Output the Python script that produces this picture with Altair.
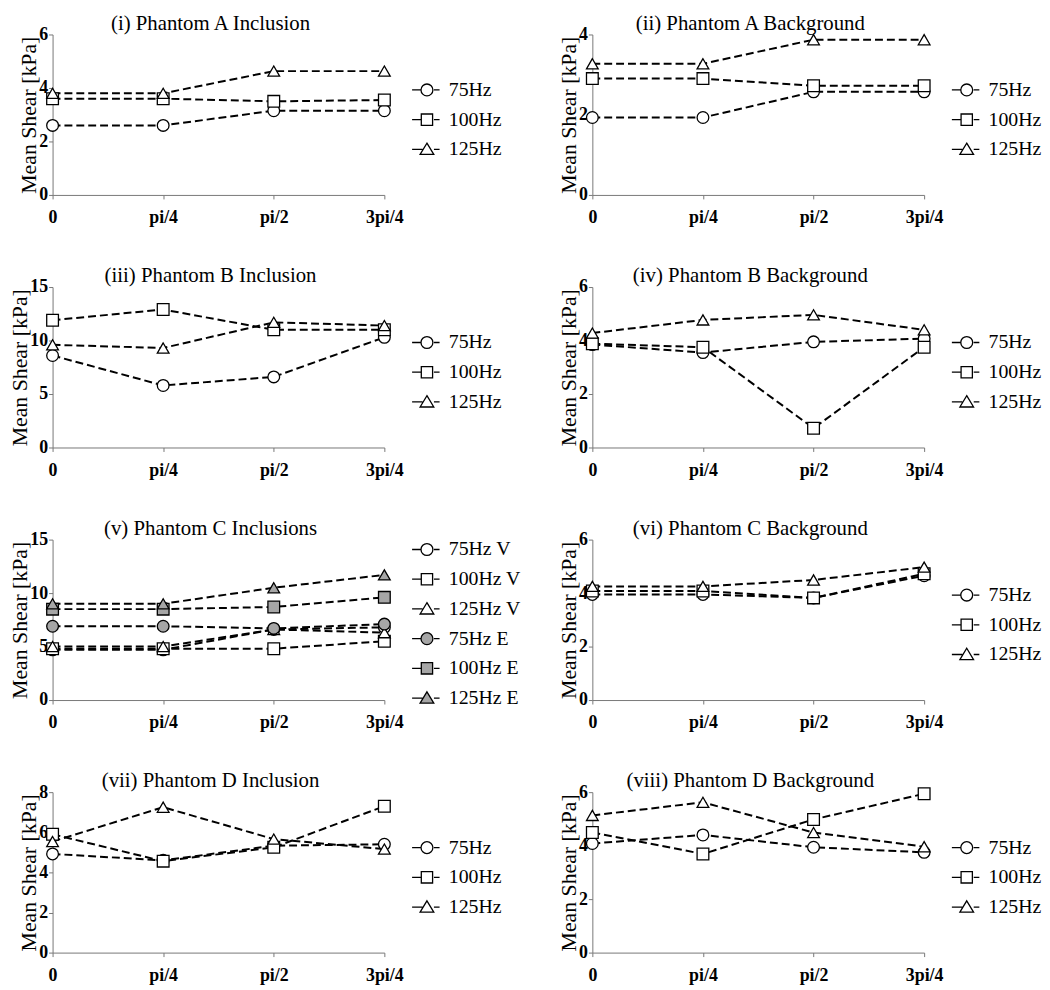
import altair as alt
import pandas as pd

angles = ["0", "pi/4", "pi/2", "3pi/4"]
freq3 = ["75Hz", "100Hz", "125Hz"]
freq6 = ["75Hz V", "100Hz V", "125Hz V", "75Hz E", "100Hz E", "125Hz E"]

titles = [
    "(i)  Phantom A Inclusion", "(ii)  Phantom A Background",
    "(iii)  Phantom B Inclusion", "(iv)  Phantom B Background",
    "(v)  Phantom C Inclusions", "(vi)  Phantom C Background",
    "(vii)  Phantom D Inclusion", "(viii)  Phantom D Background",
]

a_inc_75 = [2.6, 2.6, 3.15, 3.15]
a_inc_100 = [3.6, 3.6, 3.5, 3.55]
a_inc_125 = [3.8, 3.8, 4.63, 4.63]

a_bg_75 = [1.93, 1.93, 2.57, 2.57]
a_bg_100 = [2.9, 2.9, 2.72, 2.72]
a_bg_125 = [3.27, 3.27, 3.87, 3.87]

b_inc_75 = [8.6, 5.8, 6.6, 10.3]
b_inc_100 = [11.9, 12.9, 11.0, 11.0]
b_inc_125 = [9.6, 9.3, 11.7, 11.4]

b_bg_75 = [3.85, 3.55, 3.95, 4.07]
b_bg_100 = [3.88, 3.75, 0.72, 3.75]
b_bg_125 = [4.28, 4.77, 4.96, 4.4]

c_inc_75v = [4.7, 4.7, 6.6, 6.8]
c_inc_100v = [4.8, 4.8, 4.8, 5.5]
c_inc_125v = [5.0, 5.0, 6.6, 6.3]
c_inc_75e = [6.9, 6.9, 6.7, 7.1]
c_inc_100e = [8.5, 8.5, 8.7, 9.6]
c_inc_125e = [9.0, 9.0, 10.5, 11.7]

c_bg_75 = [3.95, 3.95, 3.82, 4.65]
c_bg_100 = [4.08, 4.08, 3.82, 4.72]
c_bg_125 = [4.25, 4.25, 4.49, 4.97]

d_inc_75 = [4.92, 4.6, 5.33, 5.4]
d_inc_100 = [5.9, 4.56, 5.25, 7.3]
d_inc_125 = [5.54, 7.25, 5.66, 5.16]

d_bg_75 = [4.08, 4.4, 3.94, 3.75]
d_bg_100 = [4.49, 3.69, 4.98, 5.94]
d_bg_125 = [5.13, 5.62, 4.49, 3.96]

y_max = [6, 4, 15, 6, 15, 6, 8, 6]
y_ticks = [[0, 2, 4, 6], [0, 2, 4], [0, 5, 10, 15], [0, 2, 4, 6],
           [0, 5, 10, 15], [0, 2, 4, 6], [0, 2, 4, 6, 8], [0, 2, 4, 6]]

panel_series = [
    (freq3, [a_inc_75, a_inc_100, a_inc_125]),
    (freq3, [a_bg_75, a_bg_100, a_bg_125]),
    (freq3, [b_inc_75, b_inc_100, b_inc_125]),
    (freq3, [b_bg_75, b_bg_100, b_bg_125]),
    (freq6, [c_inc_75v, c_inc_100v, c_inc_125v, c_inc_75e, c_inc_100e, c_inc_125e]),
    (freq3, [c_bg_75, c_bg_100, c_bg_125]),
    (freq3, [d_inc_75, d_inc_100, d_inc_125]),
    (freq3, [d_bg_75, d_bg_100, d_bg_125]),
]

FONT = "Liberation Serif"
GRAY = "#a6a6a6"
plot_shapes3 = ["circle", "square", "triangle-up"]
leg_circle = "M-1,0H-0.4M0.47,0H0.85M-0.4,0A0.4,0.4,0,1,1,0.4,0A0.4,0.4,0,1,1,-0.4,0Z"
leg_square = "M-1,0H-0.38M0.47,0H0.85M-0.38,-0.38H0.38V0.38H-0.38Z"
leg_tri = "M-1,0H-0.3M0.47,0H0.85M0,-0.42L0.46,0.34H-0.46Z"
leg_shapes3 = [leg_circle, leg_square, leg_tri]

W, H = 335, 162


def panel(i):
    names, values = panel_series[i]
    rows = []
    for n, vals in zip(names, values):
        for k, (a, v) in enumerate(zip(angles, vals)):
            rows.append({"angle": a, "idx": k, "value": v, "series": n})
    df = pd.DataFrame(rows)
    six = len(names) == 6
    shapes = plot_shapes3 * 2 if six else plot_shapes3
    lshapes = leg_shapes3 * 2 if six else leg_shapes3
    fills = ["white"] * 3 + [GRAY] * 3 if six else ["white"] * 3
    leg = alt.Legend(
        title=None, orient="none", legendX=362, legendY=-6 if six else 40,
        symbolSize=900, symbolStrokeColor="black", symbolStrokeWidth=1.3,
        labelFont=FONT, labelFontSize=20, labelColor="black", labelOffset=6,
        rowPadding=4, padding=0, symbolOpacity=1,
    )
    base = alt.Chart(df).encode(
        x=alt.X("angle:N", sort=angles, scale=alt.Scale(type="point", padding=0),
                axis=alt.Axis(title=None, labelAngle=0, labelFont=FONT, labelFontSize=18,
                              labelFontWeight="bold", labelColor="black", tickSize=4,
                              labelPadding=10, domainColor="#777", tickColor="#777",
                              grid=False)),
        y=alt.Y("value:Q", scale=alt.Scale(domain=[0, y_max[i]], nice=False, zero=True),
                axis=alt.Axis(title="Mean Shear [kPa]", values=y_ticks[i], titleFont=FONT,
                              titleFontSize=22, titleFontWeight="normal", titleColor="black",
                              titlePadding=-2, labelFont=FONT, labelFontSize=18,
                              labelFontWeight="bold", labelColor="black", tickSize=4,
                              labelPadding=1, domainColor="#777", tickColor="#777",
                              grid=False)),
    )
    lines = base.mark_line(color="black", strokeWidth=2, strokeDash=[8, 4]).encode(
        detail="series:N", order="idx:Q")
    points = base.mark_point(filled=True, stroke="black", strokeWidth=1.3, size=140,
                             opacity=1).encode(
        shape=alt.Shape("series:N", scale=alt.Scale(domain=names, range=shapes), legend=None),
        fill=alt.Fill("series:N", scale=alt.Scale(domain=names, range=fills), legend=None),
    )
    legend_layer = base.mark_point(filled=True, stroke="black", strokeWidth=1.3).encode(
        shape=alt.Shape("series:N", scale=alt.Scale(domain=names, range=lshapes), legend=leg),
        fill=alt.Fill("series:N", scale=alt.Scale(domain=names, range=fills), legend=leg),
        stroke=alt.Stroke("series:N", scale=alt.Scale(domain=names, range=["black"] * len(names)),
                          legend=leg),
    ).transform_filter("false")
    return alt.layer(lines, points, legend_layer).resolve_scale(
        shape="independent", fill="independent", stroke="independent"
    ).properties(
        width=W, height=H,
        title=alt.TitleParams(titles[i], font=FONT, fontSize=21, fontWeight="normal",
                              color="black", anchor="middle", offset=-8, dx=-8),
    )


chart = alt.concat(*[panel(i) for i in range(8)], columns=2,
                   spacing={"row": 93, "column": 210}, bounds="flush").resolve_scale(
    x="independent", y="independent", shape="independent", fill="independent",
    stroke="independent"
).resolve_legend(shape="independent", fill="independent", stroke="independent").properties(
    padding=0, background="white"
).configure_view(stroke=None)

chart.save("out.html", embed_options={"renderer": "svg", "actions": False})
